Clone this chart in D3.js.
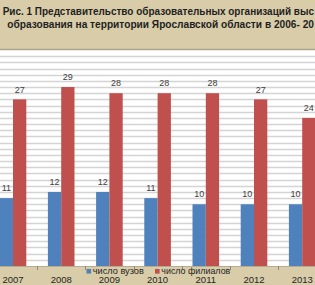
<!DOCTYPE html>
<html>
<head>
<meta charset="utf-8">
<script src="https://cdn.jsdelivr.net/npm/d3@7"></script>
<style>
  html, body { margin: 0; padding: 0; background: #d9cca8; }
  svg { display: block; font-family: "Liberation Sans", Arial, sans-serif; }
</style>
</head>
<body>
<div id="chart"></div>
<script>
const years = ["2007", "2008", "2009", "2010", "2011", "2012", "2013"];
const universities = [11, 12, 12, 11, 10, 10, 10];
const branches = [27, 29, 28, 28, 28, 27, 24];
const seriesNames = ["число вузов", "число филиалов"];
const titleLines = [
  "Рис. 1 Представительство образовательных организаций выс",
  "образования на территории Ярославской области в 2006- 20"
];

const width = 315;
const height = 285;
const plot = { top: 50, bottom: 266 };
const colors = ["#4f81bd", "#c0504d"];

const svg = d3.select("#chart")
  .append("svg")
  .attr("width", width)
  .attr("height", height);

// background
svg.append("rect")
  .attr("width", width)
  .attr("height", height)
  .attr("fill", "#d9cca8");

// the original chart is cropped, so the band range runs past the edges
const step = 48.2;
const x = d3.scaleBand()
  .domain(years)
  .range([13 - step / 2, 13 - step / 2 + step * years.length])
  .padding(0);

const y = d3.scaleLinear()
  .domain([0, 35])
  .range([plot.bottom, plot.top]);

// plot area
svg.append("rect")
  .attr("x", 0)
  .attr("y", plot.top)
  .attr("width", width)
  .attr("height", plot.bottom - plot.top)
  .attr("fill", "#ffffff");

svg.append("g")
  .selectAll("line")
  .data(d3.range(1, 35))
  .enter()
  .append("line")
  .attr("x1", 0)
  .attr("x2", width)
  .attr("y1", d => Math.round(y(d)) + 0.5)
  .attr("y2", d => Math.round(y(d)) + 0.5)
  .attr("stroke", "#d4d4d4")
  .attr("stroke-width", 1.3);

svg.append("line")
  .attr("x1", 0)
  .attr("x2", width)
  .attr("y1", plot.top - 0.5)
  .attr("y2", plot.top - 0.5)
  .attr("stroke", "#aaa38c")
  .attr("stroke-width", 1.5);

// bars
const inner = d3.scaleBand()
  .domain([0, 1])
  .range([x.bandwidth() / 2 - 13.3, x.bandwidth() / 2 + 13.3]);

const series = [universities, branches];

series.forEach((values, s) => {
  const g = svg.append("g");

  g.selectAll("rect")
    .data(years)
    .enter()
    .append("rect")
    .attr("x", (d, i) => x(d) + inner(s))
    .attr("y", (d, i) => y(values[i]))
    .attr("width", inner.bandwidth())
    .attr("height", (d, i) => y(0) - y(values[i]))
    .attr("fill", colors[s]);

  g.selectAll("text")
    .data(years)
    .enter()
    .append("text")
    .attr("x", (d, i) => x(d) + inner(s) + inner.bandwidth() / 2)
    .attr("y", (d, i) => y(values[i]) - 6.8)
    .attr("text-anchor", "middle")
    .attr("font-size", 9)
    .attr("fill", "#404040")
    .text((d, i) => values[i]);
});

// x axis
const xAxis = svg.append("g")
  .attr("transform", `translate(0, ${plot.bottom})`);

xAxis.append("line")
  .attr("x1", 0)
  .attr("x2", width)
  .attr("y1", 0.5)
  .attr("y2", 0.5)
  .attr("stroke", "#b5ab92");

xAxis.selectAll("line.tick")
  .data(years)
  .enter()
  .append("line")
  .attr("class", "tick")
  .attr("x1", d => Math.round(x(d)) + 0.5)
  .attr("x2", d => Math.round(x(d)) + 0.5)
  .attr("y1", 0)
  .attr("y2", 4)
  .attr("stroke", "#8f8a7a");

xAxis.selectAll("text")
  .data(years)
  .enter()
  .append("text")
  .attr("x", d => x(d) + x.bandwidth() / 2)
  .attr("y", 16.5)
  .attr("text-anchor", "middle")
  .attr("font-size", 9.5)
  .attr("fill", "#262626")
  .text(d => d);

// legend, sits over the axis labels like in the original
const legendX = [86.5, 155];
const legendWidths = [51, 69];
const legend = svg.append("g");

seriesNames.forEach((name, s) => {
  legend.append("rect")
    .attr("x", legendX[s])
    .attr("y", 269)
    .attr("width", 4.6)
    .attr("height", 4.6)
    .attr("fill", colors[s]);

  legend.append("text")
    .attr("x", legendX[s] + 6.3)
    .attr("y", 273.6)
    .attr("font-size", 8.4)
    .attr("fill", "#262626")
    .attr("textLength", legendWidths[s])
    .attr("lengthAdjust", "spacingAndGlyphs")
    .text(name);
});

// title (cropped on the right in the original)
const titleX = [2.7, 7.3];
const titleY = [14.5, 27.8];
const titleEnd = 314;

titleLines.forEach((line, i) => {
  svg.append("text")
    .attr("x", titleX[i])
    .attr("y", titleY[i])
    .attr("font-size", 10.5)
    .attr("font-weight", "bold")
    .attr("fill", "#1f1f1f")
    .attr("textLength", titleEnd - titleX[i])
    .attr("lengthAdjust", "spacingAndGlyphs")
    .text(line);
});
</script>
</body>
</html>
